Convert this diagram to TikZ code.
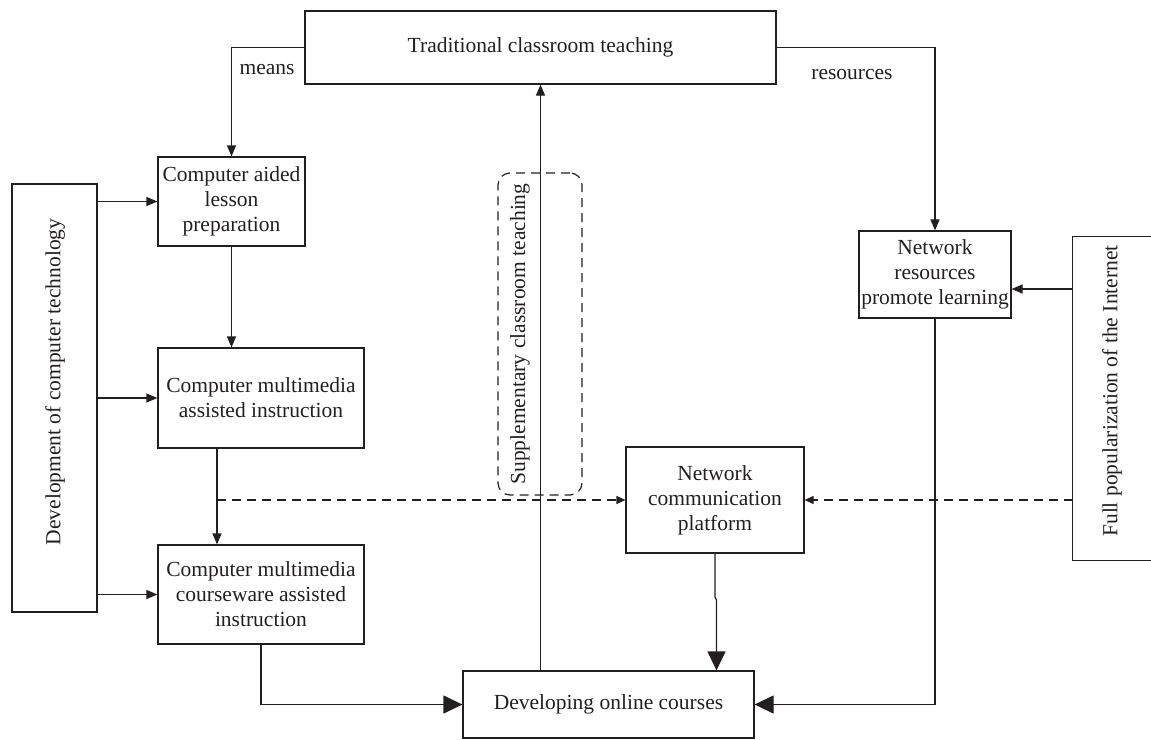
\documentclass[tikz,border=0pt]{standalone}
\usepackage{fontspec}
\setmainfont{Liberation Serif}
\usetikzlibrary{arrows.meta}
\definecolor{ink}{RGB}{35,31,32}
\newcommand\dfont{\fontsize{21.5}{25}\selectfont}
\begin{document}
\begin{tikzpicture}[x=1pt,y=-1pt,
  box/.style={draw=ink, line width=1.2pt, inner sep=0pt, align=center, font=\dfont, text=ink},
  txt/.style={inner sep=0pt, font=\dfont, text=ink},
  arr/.style={draw=ink, line width=1.2pt, -{Triangle[length=11pt,width=9pt]}},
  bigarr/.style={draw=ink, line width=1.2pt, -{Triangle[length=19pt,width=18pt]}},
  darr/.style={draw=ink, line width=1.2pt, dash pattern=on 9pt off 6pt, -{Triangle[length=9pt,width=8pt]}},
  dbox/.style={draw=ink, line width=1.2pt, dash pattern=on 9pt off 6pt, rounded corners=12pt, inner sep=0pt}]
\useasboundingbox (0,0) rectangle (1151,739);

% boxes
\node[box, minimum width=471pt, minimum height=73pt] (trad) at (540.5,47.5) {Traditional classroom teaching};
\node[box, minimum width=147pt, minimum height=89pt] (cal) at (231.5,201.5) {Computer aided\\lesson\\preparation};
\node[box, minimum width=206pt, minimum height=100pt] (cma) at (261,398) {Computer multimedia\\assisted instruction};
\node[box, minimum width=206pt, minimum height=99pt] (cmc) at (261,594.5) {Computer multimedia\\courseware assisted\\instruction};
\node[box, minimum width=85pt, minimum height=428pt] (dev) at (54.5,398) {};
\node[txt, rotate=90] (devtext) at (55,382) {Development of computer technology};
\node[box, minimum width=152pt, minimum height=87pt] (nrp) at (935,274.5) {Network\\resources\\promote learning};
\node[box, minimum width=178pt, minimum height=106pt] (ncp) at (715,500) {Network\\communication\\platform};
\node[box, minimum width=291pt, minimum height=67pt] (doc) at (608.5,704.5) {Developing online courses};
\node[inner sep=0pt, minimum width=79pt, minimum height=323pt] (fpi) at (1112.5,398.5) {};
\draw[ink, line width=1.2pt] (fpi.north east) -- (fpi.north west) -- (fpi.south west) -- (fpi.south east);
\node[txt, rotate=90] (fpitext) at (1112,391) {Full popularization of the Internet};
\node[dbox, minimum width=84pt, minimum height=322pt] (sup) at (540,334) {};
\node[txt, rotate=90] (suptext) at (520,334) {Supplementary classroom teaching};

% labels
\node[txt] (means) at (267,70) {means};
\node[txt] (res) at (852,75) {resources};

% helper coordinates
\coordinate (vx) at (217,500);
\coordinate (ia) at (1073,289);
\coordinate (jg) at (716.5,600);

% connectors
\draw[arr] (trad.west) -| (cal.north);
\draw[arr] (trad.east) -| (nrp.north);
\draw[arr] (dev.east |- cal.west) -- (cal.west);
\draw[arr] (dev.east |- cma.west) -- (cma.west);
\draw[arr] (dev.east |- cmc.west) -- (cmc.west);
\draw[arr] (cal.south) -- (cma.north -| cal.south);
\draw[arr] (cma.south -| vx) -- (cmc.north -| vx);
\draw[darr] (vx) -- (ncp.west);
\draw[darr] (fpi.west |- ncp.east) -- (ncp.east);
\draw[bigarr] (cmc.south) |- (doc.west);
\draw[arr] (doc.north -| trad.south) -- (trad.south);
\draw[bigarr] (nrp.south) |- (doc.east);
\draw[arr] (ia) -- (ia -| nrp.east);
\draw[bigarr] (ncp.south) -- (715,597) -- (jg) -- (doc.north -| jg);
\end{tikzpicture}
\end{document}
